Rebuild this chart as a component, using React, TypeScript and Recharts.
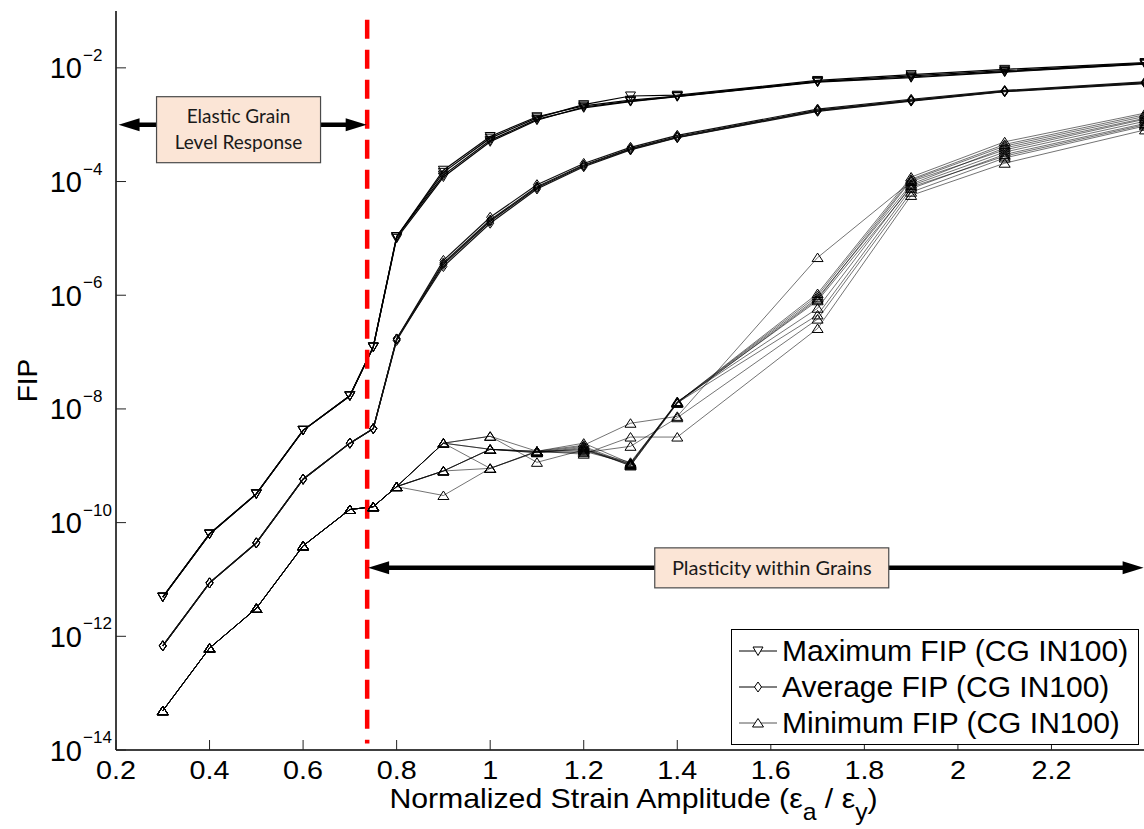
import React from 'react';
import { LineChart, Line, XAxis, YAxis, ReferenceLine, ReferenceDot } from 'recharts';

// normalized strain amplitude (eps_a / eps_y)
const strain = [0.3, 0.4, 0.5, 0.6, 0.7, 0.75, 0.8, 0.9, 1.0, 1.1, 1.2, 1.3, 1.4, 1.7, 1.9, 2.1, 2.4];

const xTicks = [0.2, 0.4, 0.6, 0.8, 1, 1.2, 1.4, 1.6, 1.8, 2, 2.2];
const yTicks = [1e-14, 1e-12, 1e-10, 1e-8, 1e-6, 1e-4, 1e-2];

// maximum FIP, a few instantiations (they coincide in the elastic range)
const maxFip1 = [4.9e-12, 6.3e-11, 3.2e-10, 4.2e-9, 1.7e-8, 1.23e-7, 1.07e-5, 1.58e-4, 6.2e-4, 1.38e-3, 2.14e-3, 2.7e-3, 3.2e-3, 5.8e-3, 7.2e-3, 8.9e-3, 1.2e-2];
const maxFip2 = [4.9e-12, 6.3e-11, 3.2e-10, 4.2e-9, 1.7e-8, 1.23e-7, 1.07e-5, 1.3e-4, 5.3e-4, 1.24e-3, 1.98e-3, 2.55e-3, 3.1e-3, 5.6e-3, 6.7e-3, 8.4e-3, 1.16e-2];
const maxFip3 = [4.9e-12, 6.3e-11, 3.2e-10, 4.2e-9, 1.7e-8, 1.23e-7, 1.07e-5, 1.45e-4, 5.8e-4, 1.32e-3, 2.25e-3, 3.2e-3, 3.3e-3, 6.0e-3, 7.6e-3, 9.4e-3, 1.24e-2];
const maxFip4 = [4.9e-12, 6.3e-11, 3.2e-10, 4.2e-9, 1.7e-8, 1.23e-7, 1.0e-5, 1.2e-4, 5.0e-4, 1.2e-3, 2.05e-3, 2.6e-3, 3.15e-3, 5.7e-3, 6.9e-3, 8.6e-3, 1.18e-2];

// average FIP
const avgFip1 = [6.8e-13, 8.7e-12, 4.4e-11, 5.8e-10, 2.5e-9, 4.5e-9, 1.7e-7, 3.7e-6, 2.1e-5, 8.1e-5, 1.95e-4, 3.8e-4, 6.2e-4, 1.8e-3, 2.7e-3, 3.9e-3, 5.5e-3];
const avgFip2 = [6.8e-13, 8.7e-12, 4.4e-11, 5.8e-10, 2.5e-9, 4.5e-9, 1.7e-7, 3.2e-6, 1.85e-5, 7.4e-5, 1.82e-4, 3.6e-4, 5.9e-4, 1.72e-3, 2.6e-3, 3.8e-3, 5.3e-3];
const avgFip3 = [6.8e-13, 8.7e-12, 4.4e-11, 5.8e-10, 2.5e-9, 4.5e-9, 1.7e-7, 4.1e-6, 2.35e-5, 8.8e-5, 2.08e-4, 4.0e-4, 6.5e-4, 1.88e-3, 2.8e-3, 4.0e-3, 5.7e-3];
const avgFip4 = [6.8e-13, 8.7e-12, 4.4e-11, 5.8e-10, 2.5e-9, 4.5e-9, 1.6e-7, 3.5e-6, 2.0e-5, 7.8e-5, 1.9e-4, 3.7e-4, 6.0e-4, 1.76e-3, 2.65e-3, 3.85e-3, 5.4e-3];

// minimum FIP, ten instantiations
const minFip1 = [4.9e-14, 6.2e-13, 3.1e-12, 3.9e-11, 1.7e-10, 1.9e-10, 4.3e-10, 2.5e-9, 3.3e-9, 1.8e-9, 2.3e-9, 5.6e-9, 7.4e-9, 4.6e-6, 1.0e-4, 3.6e-4, 1.25e-3];
const minFip2 = [4.9e-14, 6.2e-13, 3.1e-12, 3.9e-11, 1.7e-10, 1.9e-10, 4.3e-10, 2.5e-9, 3.3e-9, 1.15e-9, 1.9e-9, 1.15e-9, 1.3e-8, 1.07e-6, 1.2e-4, 5.0e-4, 1.6e-3];
const minFip3 = [4.9e-14, 6.2e-13, 3.1e-12, 3.9e-11, 1.7e-10, 1.9e-10, 4.3e-10, 2.5e-9, 1.95e-9, 1.8e-9, 2.5e-9, 1.1e-9, 1.3e-8, 9.8e-7, 1.1e-4, 4.5e-4, 1.5e-3];
const minFip4 = [4.9e-14, 6.2e-13, 3.1e-12, 3.9e-11, 1.7e-10, 1.9e-10, 4.3e-10, 2.5e-9, 1.95e-9, 1.7e-9, 2.1e-9, 1.0e-9, 1.25e-8, 8.5e-7, 1.05e-4, 4.2e-4, 1.4e-3];
const minFip5 = [4.9e-14, 6.2e-13, 3.1e-12, 3.9e-11, 1.7e-10, 1.9e-10, 4.3e-10, 2.5e-9, 9.0e-10, 1.8e-9, 1.6e-9, 3.2e-9, 3.2e-9, 2.6e-7, 5.7e-5, 2.1e-4, 8.1e-4];
const minFip6 = [4.9e-14, 6.2e-13, 3.1e-12, 3.9e-11, 1.7e-10, 1.9e-10, 4.3e-10, 8.1e-10, 1.95e-9, 1.75e-9, 2.2e-9, 1.05e-9, 1.3e-8, 9.0e-7, 9.0e-5, 3.9e-4, 1.3e-3];
const minFip7 = [4.9e-14, 6.2e-13, 3.1e-12, 3.9e-11, 1.7e-10, 1.9e-10, 4.3e-10, 8.1e-10, 1.95e-9, 1.8e-9, 1.8e-9, 1.1e-9, 1.35e-8, 5.9e-7, 8.5e-5, 3.3e-4, 1.15e-3];
const minFip8 = [4.9e-14, 6.2e-13, 3.1e-12, 3.9e-11, 1.7e-10, 1.9e-10, 4.3e-10, 8.1e-10, 1.95e-9, 1.7e-9, 2.0e-9, 1.0e-9, 1.28e-8, 4.5e-7, 7.5e-5, 3.0e-4, 1.05e-3];
const minFip9 = [4.9e-14, 6.2e-13, 3.1e-12, 3.9e-11, 1.7e-10, 1.9e-10, 4.3e-10, 8.1e-10, 9.0e-10, 1.75e-9, 1.7e-9, 2.2e-9, 7.0e-9, 3.8e-7, 6.5e-5, 2.6e-4, 9.5e-4];
const minFip10 = [4.9e-14, 6.2e-13, 3.1e-12, 3.9e-11, 1.7e-10, 1.9e-10, 4.3e-10, 3.0e-10, 9.0e-10, 1.8e-9, 1.9e-9, 1.05e-9, 1.3e-8, 8.0e-7, 8.0e-5, 2.8e-4, 1.0e-3];

const maxRuns = [maxFip1, maxFip2, maxFip3, maxFip4];
const avgRuns = [avgFip1, avgFip2, avgFip3, avgFip4];
const minRuns = [minFip1, minFip2, minFip3, minFip4, minFip5, minFip6, minFip7, minFip8, minFip9, minFip10];

const legendLabels = ['Maximum FIP (CG IN100)', 'Average FIP (CG IN100)', 'Minimum FIP (CG IN100)'];

const rows = strain.map((x, i) => {
  const r: Record<string, number> = { x };
  maxRuns.forEach((s, k) => (r[`max${k}`] = s[i]));
  avgRuns.forEach((s, k) => (r[`avg${k}`] = s[i]));
  minRuns.forEach((s, k) => (r[`min${k}`] = s[i]));
  return r;
});

const FONT = '"Liberation Sans", Arial, Helvetica, sans-serif';
const BOXFONT = 'Lato, "Open Sans", sans-serif';

const downTri = (cx: number, cy: number) => `M${cx - 5},${cy - 4} L${cx + 5},${cy - 4} L${cx},${cy + 4.5} Z`;
const upTri = (cx: number, cy: number) => `M${cx - 5.5},${cy + 4} L${cx + 5.5},${cy + 4} L${cx},${cy - 4.5} Z`;
const diamond = (cx: number, cy: number) => `M${cx},${cy - 5} L${cx + 3.5},${cy} L${cx},${cy + 5} L${cx - 3.5},${cy} Z`;

const makeDot = (shape: (cx: number, cy: number) => string) => (p: any) => {
  const { cx, cy, index, dataKey } = p;
  if (cx == null || cy == null) return <g key={`${dataKey}-${index}`} />;
  return <path key={`${dataKey}-${index}`} d={shape(cx, cy)} fill="none" stroke="#000" strokeWidth={1} />;
};

const XTick = (p: any) => {
  const { x, y, payload } = p;
  return (
    <g>
      <line x1={x} y1={y} x2={x} y2={y - 10} stroke="#222" strokeWidth={1} />
      <g transform={`translate(${x},${y + 29}) scale(1.15,1)`}>
        <text x={0} y={0} textAnchor="middle" fontSize={25} fontFamily={FONT} fill="#000">
          {payload.value}
        </text>
      </g>
    </g>
  );
};

const YTick = (p: any) => {
  const { x, y, payload } = p;
  const exp = Math.round(Math.log10(payload.value));
  return (
    <g>
      <line x1={x} y1={y} x2={x + 10} y2={y} stroke="#222" strokeWidth={1} />
      <text x={x - 34} y={y + 10.5} textAnchor="end" fontSize={29} fontFamily={FONT} fill="#000">10</text>
      <text x={x - 33} y={y - 7} textAnchor="start" fontSize={17} fontFamily={FONT} fill="#000">
        {`\u2212${Math.abs(exp)}`}
      </text>
    </g>
  );
};

const TopTick = (p: any) => {
  const { x, y } = p;
  return <line x1={x} y1={y} x2={x} y2={y + 10} stroke="#333" strokeWidth={1} />;
};

const RightTick = (p: any) => {
  const { x, y } = p;
  return <line x1={x} y1={y} x2={x - 10} y2={y} stroke="#333" strokeWidth={1} />;
};

const XTitle = (p: any) => {
  const { viewBox } = p;
  const cx = viewBox.x + viewBox.width / 2 + 3;
  return (
    <g transform={`translate(${cx},${viewBox.y + 58}) scale(1.08,1)`}>
      <text x={0} y={0} textAnchor="middle" fontSize={28} fontFamily={FONT} fill="#000">
        Normalized Strain Amplitude (ε
        <tspan dy={12} fontSize={23}>a</tspan>
        <tspan dy={-12}> / ε</tspan>
        <tspan dy={12} fontSize={23}>y</tspan>
        <tspan dy={-12}>)</tspan>
      </text>
    </g>
  );
};

const YTitle = (p: any) => {
  const { viewBox } = p;
  const cy = viewBox.y + viewBox.height / 2;
  return (
    <text x={37} y={cy} transform={`rotate(-90, 37, ${cy})`} textAnchor="middle" fontSize={28} fontFamily={FONT} fill="#000">
      FIP
    </text>
  );
};

const DoubleArrow = (p: any) => {
  const { x1, y1, x2, y2 } = p;
  const head = 21;
  const half = 6.5;
  return (
    <g>
      <line x1={x1 + head - 2} y1={y1} x2={x2 - head + 2} y2={y2} stroke="#000" strokeWidth={4.5} />
      <path d={`M${x1},${y1} L${x1 + head},${y1 - half} L${x1 + head},${y1 + half} Z`} fill="#000" />
      <path d={`M${x2},${y2} L${x2 - head},${y2 - half} L${x2 - head},${y2 + half} Z`} fill="#000" />
    </g>
  );
};

const makeBox = (lines: string[], w: number, h: number, fontSize: number, dyOff: number) => (p: any) => {
  const { cx, cy } = p;
  const top = cy - h / 2 + dyOff;
  const lh = fontSize * 1.38;
  const first = top + h / 2 - ((lines.length - 1) * lh) / 2 + fontSize * 0.35;
  return (
    <g>
      <rect x={cx - w / 2} y={top} width={w} height={h} fill="#FBE5D6" stroke="#4a4a4a" strokeWidth={1.2} />
      {lines.map((t, i) => (
        <text key={t} x={cx} y={first + i * lh} textAnchor="middle" fontSize={fontSize} fontFamily={BOXFONT} fill="#1a1a1a">
          {t}
        </text>
      ))}
    </g>
  );
};

const legendMarks = [downTri, diamond, upTri];

const LegendBox = () => (
  <div
    style={{
      position: 'absolute',
      left: 731,
      top: 629,
      width: 406,
      height: 114,
      border: '1px solid #000',
      background: '#fff',
      fontFamily: FONT,
      fontSize: 30,
      color: '#000',
    }}
  >
    {legendLabels.map((label, i) => (
      <div
        key={label}
        style={{ position: 'absolute', left: 7, top: 3 + i * 36, height: 36, display: 'flex', alignItems: 'center', whiteSpace: 'nowrap' }}
      >
        <svg width={38} height={36} style={{ display: 'block' }}>
          <line x1={0} y1={18} x2={38} y2={18} stroke={i === 2 ? '#555' : '#000'} strokeWidth={1} />
          <path d={legendMarks[i](19, 18)} fill="#fff" stroke="#000" strokeWidth={1} />
        </svg>
        <span style={{ marginLeft: 5, lineHeight: '36px' }}>{label}</span>
      </div>
    ))}
  </div>
);

export default function App() {
  return (
    <div style={{ position: 'absolute', left: 0, top: 0, width: 1144, height: 829, background: '#fff', overflow: 'hidden' }}>
      <LineChart width={1144} height={829} data={rows} margin={{ top: 11, right: -1, bottom: 0, left: 0 }}>
        <XAxis
          xAxisId="b"
          dataKey="x"
          type="number"
          domain={[0.2, 2.4]}
          ticks={xTicks}
          allowDataOverflow
          height={79}
          tickSize={0}
          tickMargin={0}
          tickLine={false}
          axisLine={{ stroke: '#000', strokeWidth: 1.5 }}
          tick={<XTick />}
          label={{ content: (lp: any) => <XTitle {...lp} /> }}
        />
        <XAxis
          xAxisId="t"
          orientation="top"
          type="number"
          domain={[0.2, 2.4]}
          ticks={xTicks}
          allowDataOverflow
          height={0}
          tickSize={0}
          tickMargin={0}
          tickLine={false}
          axisLine={{ stroke: '#333', strokeWidth: 1.2 }}
          tick={<TopTick />}
        />
        <YAxis
          yAxisId="l"
          scale="log"
          type="number"
          domain={[1e-14, 1e-1]}
          ticks={yTicks}
          allowDataOverflow
          width={116}
          tickSize={0}
          tickMargin={0}
          tickLine={false}
          axisLine={{ stroke: '#000', strokeWidth: 1.5 }}
          tick={<YTick />}
          label={{ content: (lp: any) => <YTitle {...lp} /> }}
        />
        <YAxis
          yAxisId="r"
          orientation="right"
          scale="log"
          type="number"
          domain={[1e-14, 1e-1]}
          ticks={yTicks}
          allowDataOverflow
          width={0}
          tickSize={0}
          tickMargin={0}
          tickLine={false}
          axisLine={{ stroke: '#333', strokeWidth: 1.2 }}
          tick={<RightTick />}
        />

        {minRuns.map((_, k) => (
          <Line
            key={`min${k}`}
            xAxisId="b"
            yAxisId="l"
            dataKey={`min${k}`}
            stroke="#000"
            strokeOpacity={0.55}
            strokeWidth={1}
            dot={makeDot(upTri)}
            activeDot={false}
            isAnimationActive={false}
          />
        ))}
        {avgRuns.map((_, k) => (
          <Line
            key={`avg${k}`}
            xAxisId="b"
            yAxisId="l"
            dataKey={`avg${k}`}
            stroke="#111"
            strokeWidth={1.2}
            dot={makeDot(diamond)}
            activeDot={false}
            isAnimationActive={false}
          />
        ))}
        {maxRuns.map((_, k) => (
          <Line
            key={`max${k}`}
            xAxisId="b"
            yAxisId="l"
            dataKey={`max${k}`}
            stroke="#000"
            strokeWidth={1.2}
            dot={makeDot(downTri)}
            activeDot={false}
            isAnimationActive={false}
          />
        ))}

        <ReferenceLine
          xAxisId="b"
          yAxisId="l"
          segment={[{ x: 0.737, y: 7e-2 }, { x: 0.737, y: 1.3e-14 }]}
          stroke="#ff0000"
          strokeWidth={4.5}
          strokeDasharray="19 11"
          ifOverflow="visible"
        />
        <ReferenceLine
          xAxisId="b"
          yAxisId="l"
          segment={[{ x: 0.2055, y: 1e-3 }, { x: 0.736, y: 1e-3 }]}
          ifOverflow="visible"
          shape={(sp: any) => <DoubleArrow {...sp} />}
        />
        <ReferenceLine
          xAxisId="b"
          yAxisId="l"
          segment={[{ x: 0.739, y: 1.6e-11 }, { x: 2.397, y: 1.6e-11 }]}
          ifOverflow="visible"
          shape={(sp: any) => <DoubleArrow {...sp} />}
        />
        <ReferenceDot
          xAxisId="b"
          yAxisId="l"
          x={0.462}
          y={1e-3}
          r={1}
          ifOverflow="visible"
          shape={makeBox(['Elastic Grain', 'Level Response'], 164, 66, 19, 5)}
        />
        <ReferenceDot
          xAxisId="b"
          yAxisId="l"
          x={1.602}
          y={1.6e-11}
          r={1}
          ifOverflow="visible"
          shape={makeBox(['Plasticity within Grains'], 234, 40, 20, 0)}
        />
      </LineChart>
      <LegendBox />
    </div>
  );
}
